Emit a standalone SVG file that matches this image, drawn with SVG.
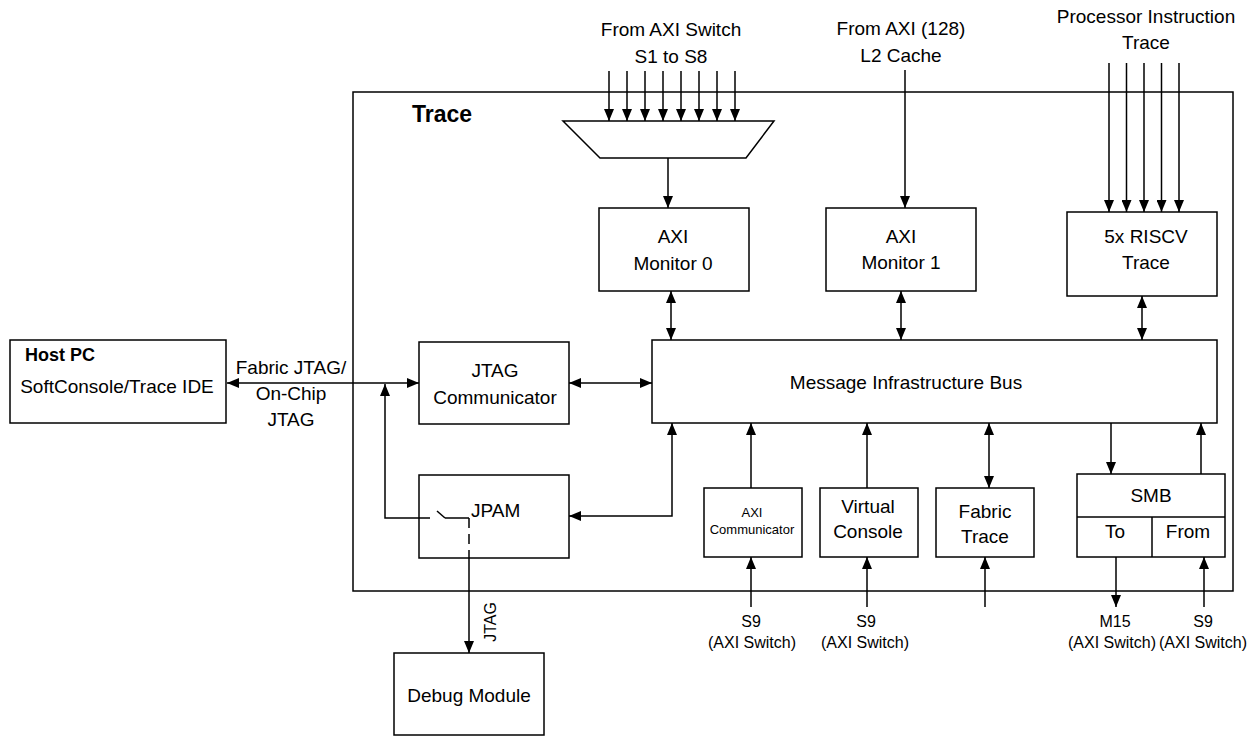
<svg xmlns="http://www.w3.org/2000/svg" width="1258" height="736" viewBox="0 0 1258 736">
<style>
.box{fill:#fff;stroke:#000;stroke-width:1.5}
.frame{fill:none;stroke:#000;stroke-width:1.5}
.ln{fill:none;stroke:#000;stroke-width:1.5}
.a1{fill:none;stroke:#000;stroke-width:1.5;marker-end:url(#ah)}
.a2{fill:none;stroke:#000;stroke-width:1.5;marker-start:url(#ah);marker-end:url(#ah)}
.dash{fill:none;stroke:#000;stroke-width:1.5;stroke-dasharray:10,6}
text{font-family:"Liberation Sans",Arial,sans-serif;font-size:19px;fill:#000;text-anchor:middle}
.b{font-weight:bold}
.sm{font-size:16px}
.xs{font-size:13px}
.l{text-anchor:start}
</style>
<defs>
<marker id="ah" viewBox="0 0 12 10" refX="12" refY="5" markerWidth="12" markerHeight="10" markerUnits="userSpaceOnUse" orient="auto-start-reverse">
<path d="M0,0 L12,5 L0,10 z" fill="#000"/>
</marker>
</defs>

<g id="trace-frame">
<rect class="frame" x="353" y="92" width="880" height="499"/>
<text class="b l" x="412" y="122" style="font-size:23px">Trace</text>
</g>

<g id="top-labels">
<text x="671" y="36">From AXI Switch</text>
<text x="671" y="63">S1 to S8</text>
<text x="901" y="35">From AXI (128)</text>
<text x="901" y="62">L2 Cache</text>
<text x="1146" y="23">Processor Instruction</text>
<text x="1146" y="49">Trace</text>
</g>

<g id="mux">
<path class="box" d="M563,121 L774,121 L746,158 L600,158 Z"/>
</g>

<g id="axi-monitor-0">
<rect class="box" x="599" y="208" width="150" height="83"/>
<text x="673" y="243">AXI</text>
<text x="673" y="270">Monitor 0</text>
</g>

<g id="axi-monitor-1">
<rect class="box" x="826" y="208" width="150" height="83"/>
<text x="901" y="243">AXI</text>
<text x="901" y="269">Monitor 1</text>
</g>

<g id="riscv-trace">
<rect class="box" x="1067" y="212" width="150" height="84"/>
<text x="1146" y="243">5x RISCV</text>
<text x="1146" y="269">Trace</text>
</g>

<g id="host-pc">
<rect class="box" x="10" y="340" width="216" height="83"/>
<text class="b l" x="25" y="361" style="font-size:18px">Host PC</text>
<text x="117" y="393">SoftConsole/Trace IDE</text>
</g>

<g id="jtag-communicator">
<rect class="box" x="419" y="342" width="150" height="82"/>
<text x="495" y="377">JTAG</text>
<text x="495" y="404">Communicator</text>
</g>

<g id="message-bus">
<rect class="box" x="652" y="340" width="565" height="83"/>
<text x="906" y="389">Message Infrastructure Bus</text>
</g>

<g id="jpam">
<rect class="box" x="419" y="475" width="150" height="83"/>
<text class="l" x="471" y="517">JPAM</text>
</g>

<g id="debug-module">
<rect class="box" x="394" y="653" width="150" height="82"/>
<text x="469" y="702">Debug Module</text>
</g>

<g id="axi-communicator">
<rect class="box" x="704" y="488" width="98" height="69"/>
<text class="xs" x="752" y="517">AXI</text>
<text class="xs" x="752" y="534">Communicator</text>
</g>

<g id="virtual-console">
<rect class="box" x="820" y="488" width="98" height="69"/>
<text x="868" y="513">Virtual</text>
<text x="868" y="538">Console</text>
</g>

<g id="fabric-trace">
<rect class="box" x="936" y="488" width="98" height="69"/>
<text x="985" y="518">Fabric</text>
<text x="985" y="543">Trace</text>
</g>

<g id="smb">
<rect class="box" x="1077" y="474" width="148" height="83"/>
<line class="ln" x1="1077" y1="517" x2="1225" y2="517"/>
<line class="ln" x1="1152" y1="517" x2="1152" y2="557"/>
<text x="1151" y="502">SMB</text>
<text x="1115" y="538">To</text>
<text x="1188" y="538">From</text>
</g>

<g id="connectors">
<line class="a2" x1="227" y1="383" x2="419" y2="383"/>
<line class="a2" x1="569" y1="383" x2="652" y2="383"/>
<path class="a1" d="M430,518 H385 V384"/>
<line class="ln" x1="437" y1="511" x2="445" y2="518"/>
<path class="ln" d="M445,518 H469"/>
<line class="dash" x1="469" y1="518" x2="469" y2="558"/>
<line class="a1" x1="469" y1="558" x2="469" y2="653"/>
<path class="a2" d="M672,423 V516 H569"/>
<line class="a1" x1="668" y1="158" x2="668" y2="208"/>
<line class="a1" x1="609" y1="71" x2="609" y2="121"/>
<line class="a1" x1="627" y1="71" x2="627" y2="121"/>
<line class="a1" x1="645" y1="71" x2="645" y2="121"/>
<line class="a1" x1="663" y1="71" x2="663" y2="121"/>
<line class="a1" x1="681" y1="71" x2="681" y2="121"/>
<line class="a1" x1="699" y1="71" x2="699" y2="121"/>
<line class="a1" x1="717" y1="71" x2="717" y2="121"/>
<line class="a1" x1="735" y1="71" x2="735" y2="121"/>
<line class="a1" x1="905" y1="70" x2="905" y2="208"/>
<line class="a1" x1="1109" y1="63" x2="1109" y2="212"/>
<line class="a1" x1="1126.5" y1="63" x2="1126.5" y2="212"/>
<line class="a1" x1="1144" y1="63" x2="1144" y2="212"/>
<line class="a1" x1="1161.5" y1="63" x2="1161.5" y2="212"/>
<line class="a1" x1="1179" y1="63" x2="1179" y2="212"/>
<line class="a2" x1="671" y1="291" x2="671" y2="340"/>
<line class="a2" x1="901" y1="291" x2="901" y2="340"/>
<line class="a2" x1="1142" y1="296" x2="1142" y2="340"/>
<line class="a1" x1="751" y1="488" x2="751" y2="423"/>
<line class="a1" x1="867" y1="488" x2="867" y2="423"/>
<line class="a2" x1="989" y1="423" x2="989" y2="488"/>
<line class="a1" x1="1111" y1="423" x2="1111" y2="474"/>
<line class="a1" x1="1201" y1="474" x2="1201" y2="423"/>
<line class="a1" x1="751" y1="607" x2="751" y2="557"/>
<line class="a1" x1="867" y1="607" x2="867" y2="557"/>
<line class="a1" x1="985" y1="607" x2="985" y2="557"/>
<line class="a1" x1="1204" y1="607" x2="1204" y2="557"/>
<line class="a1" x1="1116" y1="557" x2="1116" y2="607"/>
</g>

<g id="connector-labels">
<text x="291" y="374">Fabric JTAG/</text>
<text x="291" y="400">On-Chip</text>
<text x="291" y="426">JTAG</text>
<text class="sm" transform="translate(490,622) rotate(-90)" x="0" y="6">JTAG</text>
<text class="sm" x="751" y="627">S9</text>
<text class="sm" x="752" y="648">(AXI Switch)</text>
<text class="sm" x="866" y="627">S9</text>
<text class="sm" x="865" y="648">(AXI Switch)</text>
<text class="sm" x="1115" y="627">M15</text>
<text class="sm" x="1112" y="648">(AXI Switch)</text>
<text class="sm" x="1203" y="627">S9</text>
<text class="sm" x="1203" y="648">(AXI Switch)</text>
</g>
</svg>
